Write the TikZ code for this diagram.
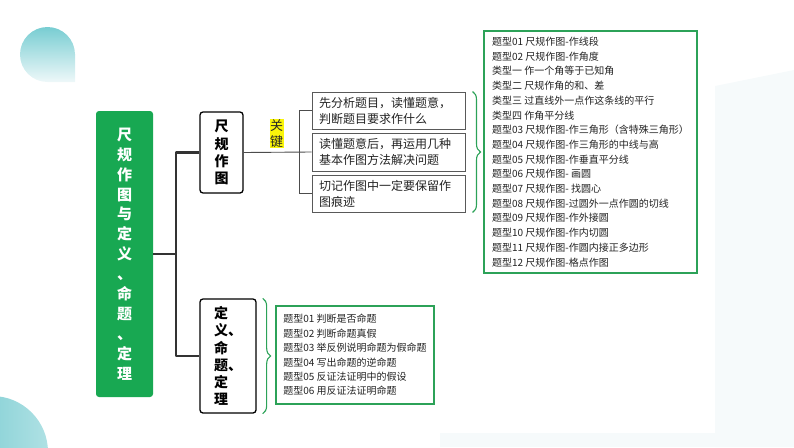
\documentclass[tikz,border=0pt]{standalone}
\usepackage{fontspec}
\setmainfont{Noto Sans CJK SC}
\usetikzlibrary{decorations.pathreplacing}
\definecolor{mgreen}{RGB}{24,168,82}
\definecolor{bgreen}{RGB}{44,162,88}
\definecolor{teal1}{RGB}{120,205,210}
\definecolor{teal2}{RGB}{238,248,249}
\definecolor{teal3}{RGB}{108,198,204}
\definecolor{teal4}{RGB}{175,225,228}
\definecolor{faint}{RGB}{246,250,251}
\definecolor{keyyellow}{RGB}{250,245,10}
\definecolor{tgray}{RGB}{34,34,34}
\begin{document}
\begin{tikzpicture}[x=1pt,y=-1pt,
  mainbox/.style={fill=mgreen, rounded corners=3pt, minimum width=57pt, minimum height=286pt,
    text=white, font=\fontsize{15}{19.9}\selectfont\bfseries, align=center, inner sep=0pt},
  catbox/.style={draw=black, line width=1.3pt, rounded corners=3pt, fill=white,
    font=\fontsize{14}{17.2}\selectfont\bfseries, inner sep=0pt},
  tipbox/.style={draw=black!65, line width=1pt, minimum width=153pt, text width=139pt,
    inner xsep=7pt, inner ysep=0pt, align=left, text=tgray, font=\fontsize{12}{16}\selectfont},
  keyl/.style={fill=keyyellow, inner sep=0.5pt, align=center, text=black!85,
    font=\fontsize{13}{16}\selectfont},
  listbox/.style={draw=bgreen, line width=1.2pt, align=left, inner sep=0pt, text=tgray},
  trunk/.style={draw=black!80, line width=2.2pt, line join=round},
  twig/.style={draw=black!70, line width=0.9pt},
  gbrace/.style={draw=bgreen, line width=1.1pt, decorate, decoration={brace, amplitude=8pt}}
]
\useasboundingbox (0,0) rectangle (794,447);
% background decorations
\fill[faint] (715,86) -- (794,70) -- (794,447) -- (715,447) -- cycle;
\fill[faint] (440,433) -- (715,433) -- (715,447) -- (440,447) -- cycle;
\shade[top color=teal1, bottom color=teal2] (75,54) -- (75,82) -- (47.5,82)
  arc[start angle=90, end angle=360, radius=27.5] -- cycle;
\begin{scope}
  \clip (0,0) rectangle (794,447);
  \shade[left color=teal3, right color=teal4] (-8,452) circle[radius=56];
\end{scope}

% root
\node[mainbox] (root) at (124.5,254) {尺\\规\\作\\图\\与\\定\\义\\、\\命\\题\\、\\定\\理};
% categories
\node[catbox, minimum width=43pt, minimum height=81pt, align=center] (a) at (221.5,152.5) {尺\\规\\作\\图};
\node[catbox, minimum width=56pt, minimum height=114pt, align=left] (b) at (228,356) {定\\义、\\命\\题、\\定\\理};
\coordinate (j) at (176,254);
\draw[trunk] (root.east) -- (j);
\draw[trunk] (a.west) -| (j) |- (b.west);

% key tips
\node[tipbox, minimum height=37pt] (t1) at (388.5,110.5) {先分析题目，读懂题意，\\判断题目要求作什么};
\node[tipbox, minimum height=38pt] (t2) at (388.5,152) {读懂题意后，再运用几种\\基本作图方法解决问题};
\node[tipbox, minimum height=37pt] (t3) at (388.5,193.5) {切记作图中一定要保留作\\图痕迹};
\node[keyl] (k) at (276.5,133.5) {关\\键};
\draw[twig] (a.east) -- (t2.west);
\draw[twig] (t1.west) -- ++(-12,0) coordinate (tj) |- (t3.west);

% list 1
\draw[gbrace] ([xshift=7pt]t1.north east) -- ([xshift=7pt]t3.south east);
\node[listbox, minimum width=213pt, minimum height=242pt, font=\fontsize{10}{14.7}\selectfont] (l1) at (590.5,152) {%
题型01 尺规作图-作线段\\
题型02 尺规作图-作角度\\
类型一 作一个角等于已知角\\
类型二 尺规作角的和、差\\
类型三 过直线外一点作这条线的平行\\
类型四 作角平分线\\
题型03 尺规作图-作三角形（含特殊三角形）\\
题型04 尺规作图-作三角形的中线与高\\
题型05 尺规作图-作垂直平分线\\
题型06 尺规作图- 画圆\\
题型07 尺规作图- 找圆心\\
题型08 尺规作图-过圆外一点作圆的切线\\
题型09 尺规作图-作外接圆\\
题型10 尺规作图-作内切圆\\
题型11 尺规作图-作圆内接正多边形\\
题型12 尺规作图-格点作图};

% list 2
\draw[gbrace] ([xshift=6pt]b.north east) -- ([xshift=6pt]b.south east);
\node[listbox, minimum width=158pt, minimum height=98pt, font=\fontsize{10}{14.4}\selectfont] (l2) at (355,355) {%
题型01 判断是否命题\\
题型02 判断命题真假\\
题型03 举反例说明命题为假命题\\
题型04 写出命题的逆命题\\
题型05 反证法证明中的假设\\
题型06 用反证法证明命题};
\end{tikzpicture}
\end{document}
